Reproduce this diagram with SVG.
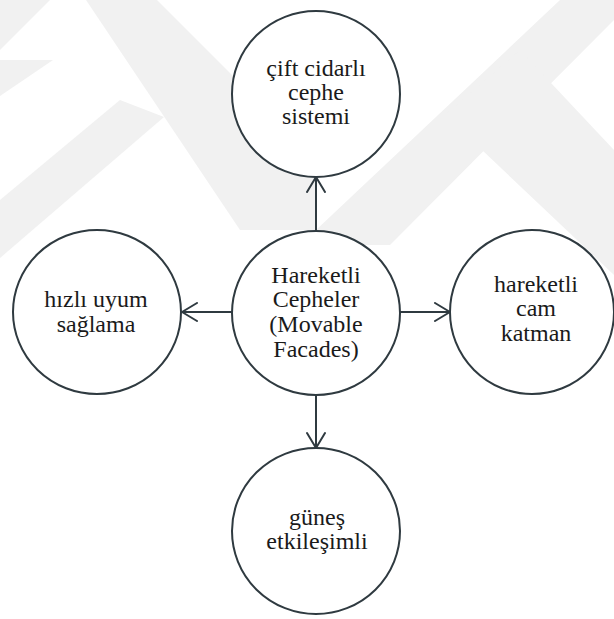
<svg xmlns="http://www.w3.org/2000/svg" width="614" height="619" viewBox="0 0 614 619">
  <style>
    .wm { fill: #f1f1f1; }
    .node { fill: #ffffff; stroke: #2f3a40; stroke-width: 2; }
    .label { font-family: "Liberation Serif", "DejaVu Serif", serif; font-size: 24px; fill: #1a1a1a; text-anchor: middle; }
    .edge { stroke: #2f3a40; stroke-width: 2; fill: none; }
    .head { stroke: #2f3a40; stroke-width: 2; fill: none; stroke-linecap: round; stroke-linejoin: round; }
  </style>
  <defs>
    <marker id="arrow" viewBox="0 0 20 20" refX="17" refY="10" markerWidth="20" markerHeight="20" markerUnits="userSpaceOnUse" orient="auto">
      <path class="head" d="M2,1 L17,10 L2,19"/>
    </marker>
  </defs>

  <rect width="614" height="619" fill="#ffffff"/>

  <!-- faint background watermark bands -->
  <g id="watermark">
    <polygon class="wm" points="0,0 50,0 0,50"/>
    <polygon class="wm" points="0,60 53,60 0,96"/>
    <polygon class="wm" points="86,0 157,0 316,159 316,230 240,230"/>
    <polygon class="wm" points="560,0 614,0 614,20 390,245 316,245 316,230"/>
    <polygon class="wm" points="0,200 0,258 164,117 120,100"/>
    <polygon class="wm" points="520,50 614,150 614,275 445,115"/>
  </g>

  <g id="connectors">
    <line class="edge" x1="316" y1="230" x2="316" y2="177" marker-end="url(#arrow)"/>
    <line class="edge" x1="316" y1="396" x2="316" y2="448" marker-end="url(#arrow)"/>
    <line class="edge" x1="232" y1="312" x2="182" y2="312" marker-end="url(#arrow)"/>
    <line class="edge" x1="400" y1="312" x2="450" y2="312" marker-end="url(#arrow)"/>
  </g>

  <g id="node-center">
    <ellipse class="node" cx="316" cy="313" rx="84" ry="82"/>
    <text class="label" x="316" y="283">Hareketli</text>
    <text class="label" x="316" y="307">Cepheler</text>
    <text class="label" x="316" y="332">(Movable</text>
    <text class="label" x="316" y="357">Facades)</text>
  </g>

  <g id="node-top">
    <ellipse class="node" cx="316" cy="94" rx="84" ry="83"/>
    <text class="label" x="316" y="76">çift cidarlı</text>
    <text class="label" x="316" y="100">cephe</text>
    <text class="label" x="316" y="124">sistemi</text>
  </g>

  <g id="node-left">
    <ellipse class="node" cx="97" cy="312" rx="84" ry="82"/>
    <text class="label" x="96" y="307">hızlı uyum</text>
    <text class="label" x="96" y="332">sağlama</text>
  </g>

  <g id="node-right">
    <ellipse class="node" cx="532" cy="312" rx="82" ry="82"/>
    <text class="label" x="536" y="292">hareketli</text>
    <text class="label" x="536" y="316">cam</text>
    <text class="label" x="536" y="341">katman</text>
  </g>

  <g id="node-bottom">
    <ellipse class="node" cx="316" cy="531" rx="84" ry="83"/>
    <text class="label" x="317" y="525">güneş</text>
    <text class="label" x="317" y="549">etkileşimli</text>
  </g>
</svg>
